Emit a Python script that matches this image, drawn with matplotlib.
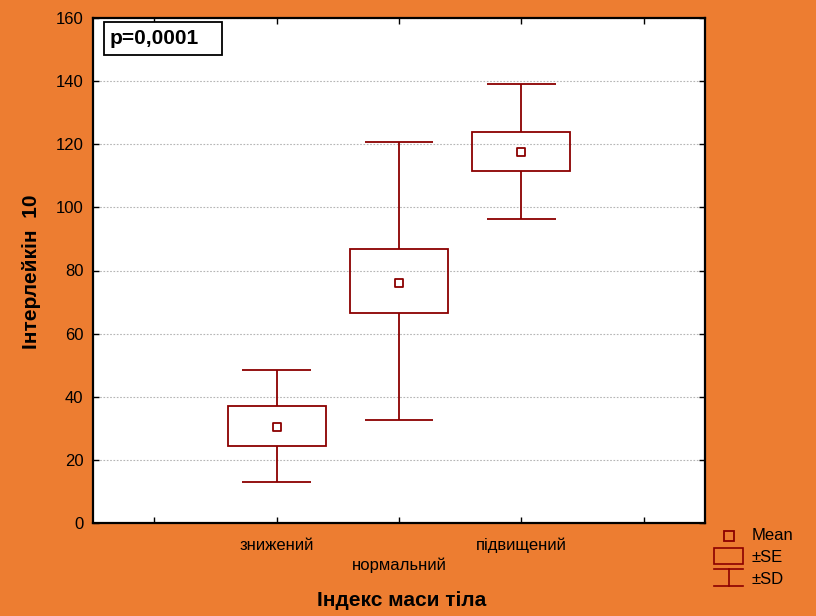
import matplotlib.pyplot as plt
from matplotlib.patches import Rectangle
from matplotlib.lines import Line2D

plt.rcParams['font.family'] = ['Liberation Sans', 'DejaVu Sans']

# values
groups = ["знижений", "нормальний", "підвищений"]
means = [30.4, 76.1, 117.4]
se_low = [24.4, 66.5, 111.5]
se_high = [37.1, 86.8, 123.9]
sd_low = [13.0, 32.5, 96.2]
sd_high = [48.5, 120.7, 139.1]

bg = "#ED7D31"
red = "#8B0000"

fig = plt.figure(figsize=(8.16, 6.16), dpi=100, facecolor=bg)
ax = fig.add_axes([93 / 816, 93 / 616, 612 / 816, 505 / 616])

box_hw = 0.40
cap_hw = 0.28
xs = [1, 2, 3]
for x, m, lo, hi, dlo, dhi in zip(xs, means, se_low, se_high, sd_low, sd_high):
    # whiskers (+-SD)
    ax.vlines(x, dlo, lo, color=red, lw=1.3, zorder=3)
    ax.vlines(x, hi, dhi, color=red, lw=1.3, zorder=3)
    ax.hlines([dlo, dhi], x - cap_hw, x + cap_hw, color=red, lw=1.3, zorder=3)
    # box (+-SE)
    ax.add_patch(Rectangle((x - box_hw, lo), 2 * box_hw, hi - lo, fill=False,
                           edgecolor=red, lw=1.3, zorder=3))
ax.scatter(xs, means, marker="s", s=40, facecolor="white", edgecolor=red,
           linewidths=1.3, zorder=4)

ax.set_xlim(-0.5, 4.5)
ax.set_ylim(0, 160)
ax.set_xticks(range(5))
ax.set_xticklabels([])
ax.set_yticks(range(0, 161, 20))
ax.tick_params(direction="in", top=True, right=True, length=4, width=1,
               labelsize=12, pad=7)
ax.grid(axis="y", ls=(0, (1.5, 1.5)), color="#b5b5b5", lw=0.8)
for s in ax.spines.values():
    s.set_linewidth(1.6)

# staggered category labels
for x, name in zip(xs, groups):
    y = -7.0 if x != 2 else -13.5
    ax.text(x, y, name, ha="center", va="center", fontsize=12)

# p-value box
def fx(px):
    return px / 816


def fy(py):
    return 1 - py / 616


fig.add_artist(Rectangle((fx(104), fy(55)), fx(222) - fx(104), fy(22) - fy(55),
                         facecolor="white", edgecolor="black", lw=1.3,
                         transform=fig.transFigure, zorder=5))
fig.text(fx(110), fy(39), "p=0,0001", fontsize=15, fontweight="bold",
         ha="left", va="center", zorder=6)

fig.text(402 / 816, 1 - 600 / 616, "Індекс маси тіла", ha="center",
         va="center", fontsize=15, fontweight="bold")
fig.text(32 / 816, 1 - 272 / 616, "Інтерлейкін  10", ha="center",
         va="center", rotation=90, fontsize=15, fontweight="bold")

# legend drawn by hand in figure pixels
fig.add_artist(Line2D([fx(729)], [fy(536)], marker="s", markersize=6.5,
                      markerfacecolor="none", markeredgecolor=red, mew=1.3,
                      transform=fig.transFigure))
fig.add_artist(Rectangle((fx(714), fy(564)), fx(743) - fx(714), fy(548) - fy(564),
                         fill=False, edgecolor=red, lw=1.2,
                         transform=fig.transFigure))
fig.add_artist(Line2D([fx(714), fx(743)], [fy(569), fy(569)], color=red, lw=1.2,
                      transform=fig.transFigure))
fig.add_artist(Line2D([fx(714), fx(743)], [fy(586), fy(586)], color=red, lw=1.2,
                      transform=fig.transFigure))
fig.add_artist(Line2D([fx(728.5), fx(728.5)], [fy(569), fy(586)], color=red, lw=1.2,
                      transform=fig.transFigure))
for py, lab in [(535, "Mean"), (557, "±SE"), (579, "±SD")]:
    fig.text(fx(752), fy(py), lab, ha="left", va="center", fontsize=12)

fig.savefig("out.png", dpi=100, facecolor=bg)
